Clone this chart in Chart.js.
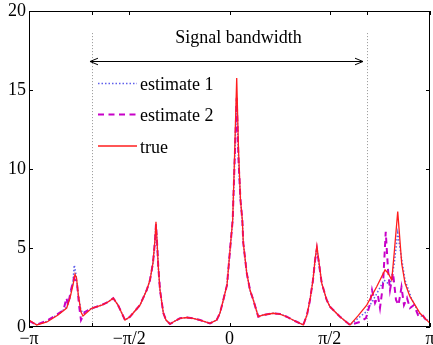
<!DOCTYPE html>
<html><head><meta charset="utf-8">
<script src="https://cdn.jsdelivr.net/npm/chart.js@4/dist/chart.umd.min.js"></script>
<style>html,body{margin:0;padding:0;background:#fff}canvas{display:block}</style>
</head><body><canvas id="c" width="433" height="345"></canvas>
<script>
const PI = Math.PI;
// axis ticks
const xTickValues = [-PI, -2.155, -PI/2, 0, PI/2, 2.155, PI];
const xTickLabels = ['−π', '', '−π/2', '0', 'π/2', '', 'π'];
const yTickValues = [0, 5, 10, 15, 20];
// annotation
const bandEdges = [-2.155, 2.155];
const bandTop = 18.6;
const arrowEnds = [-2.186, 2.092];
const arrowLevel = 16.84;
const bandLabel = 'Signal bandwidth';
const bandLabelX = 0.14;
const seriesNames = ['estimate 1', 'estimate 2', 'true'];

// true spectrum
const trueX = [-3.1416,-3.021,-2.860,-2.687,-2.551,-2.499,-2.452,-2.421,-2.397,-2.369,-2.327,-2.296,-2.159,-2.002,-1.904,-1.821,-1.747,-1.637,-1.559,-1.402,-1.297,-1.246,-1.199,-1.168,-1.152,-1.136,-1.116,-1.089,-1.037,-0.995,-0.932,-0.854,-0.776,-0.666,-0.572,-0.462,-0.306,-0.201,-0.149,-0.097,-0.039,0.008,0.050,0.078,0.113,0.141,0.172,0.201,0.216,0.270,0.321,0.373,0.451,0.530,0.686,0.791,0.896,1.026,1.156,1.214,1.261,1.308,1.340,1.369,1.402,1.445,1.523,1.575,1.731,1.888,2.013,2.150,2.306,2.437,2.484,2.542,2.578,2.636,2.664,2.698,2.750,2.828,2.985,3.1416];
const trueY = [0.44,0.13,0.32,0.76,1.20,1.84,2.66,3.34,3.10,2.03,0.95,0.70,1.18,1.39,1.58,1.82,1.39,0.44,0.65,1.39,2.34,2.97,4.05,5.5,6.66,5.5,3.82,2.34,0.89,0.44,0.19,0.38,0.55,0.60,0.55,0.44,0.23,0.44,0.89,1.71,2.66,4.87,6.77,10.6,15.76,11.2,8.04,6.77,5.32,3.42,2.34,1.71,0.65,0.76,0.87,0.82,0.65,0.38,0.13,0.76,1.71,2.97,4.24,5.13,4.11,2.78,1.71,1.28,0.65,0.13,0.70,1.39,2.55,3.61,3.42,2.97,4.56,7.30,5.82,4.03,2.78,1.92,0.87,0.23];

// estimates: common middle part
const midX = [-2.159,-2.002,-1.904,-1.821,-1.747,-1.637,-1.559,-1.402,-1.297,-1.246,-1.199,-1.168,-1.152,-1.136,-1.116,-1.089,-1.037,-0.995,-0.932,-0.854,-0.776,-0.666,-0.572,-0.462,-0.306,-0.201,-0.149,-0.097,-0.039,0.008,0.050,0.078,0.113,0.141,0.172,0.201,0.216,0.270,0.321,0.373,0.451,0.530,0.686,0.791,0.896,1.026,1.156,1.214,1.261,1.308,1.340,1.369,1.402,1.445,1.523,1.575,1.731,1.888];
const midEstY = [1.18,1.39,1.58,1.82,1.39,0.44,0.65,1.39,2.34,2.97,4.05,5.4,6.5,5.4,3.82,2.34,0.89,0.44,0.19,0.38,0.55,0.60,0.55,0.44,0.23,0.44,0.89,1.71,2.66,4.87,6.77,10.2,14.5,10.6,8.04,6.77,5.32,3.42,2.34,1.71,0.65,0.76,0.87,0.82,0.65,0.38,0.13,0.76,1.71,2.97,4.2,4.95,4.0,2.78,1.71,1.28,0.65,0.13];

const est1LeftX = [-3.1416,-3.021,-2.860,-2.687,-2.551,-2.499,-2.452,-2.432,-2.405,-2.375,-2.330,-2.300];
const est1LeftY = [0.40,0.15,0.35,0.80,1.25,1.90,2.90,3.92,3.30,2.20,1.10,0.90];
const est1RightX = [2.013,2.139,2.296,2.421,2.515,2.578,2.636,2.687,2.750,2.860,2.985,3.1416];
const est1RightY = [0.55,0.95,2.03,2.97,2.66,3.92,5.95,4.56,2.97,1.71,0.76,0.32];

const est2LeftX = [-3.1416,-3.021,-2.860,-2.700,-2.600,-2.555,-2.530,-2.484,-2.437,-2.390,-2.358,-2.327,-2.264];
const est2LeftY = [0.38,0.15,0.40,0.80,1.08,1.84,1.39,2.34,3.10,2.78,1.39,0.44,0.95];
const est2RightX = [2.043,2.139,2.197,2.233,2.280,2.327,2.358,2.405,2.448,2.484,2.515,2.562,2.609,2.648,2.695,2.734,2.781,2.828,2.891,2.954,3.016,3.079,3.1416];
const est2RightY = [0.32,0.57,1.39,2.34,1.52,1.96,1.20,2.66,6.03,3.61,2.34,3.42,1.71,1.39,2.53,1.39,1.84,1.20,1.39,0.76,0.82,0.44,0.32];

const est1X = [...est1LeftX, ...midX, ...est1RightX];
const est1Y = [...est1LeftY, ...midEstY, ...est1RightY];
const est2X = [...est2LeftX, ...midX, ...est2RightX];
const est2Y = [...est2LeftY, ...midEstY, ...est2RightY];

const pts = (xs, ys) => xs.map((x, i) => ({x, y: ys[i]}));

const FONT = '"Liberation Serif", "Times New Roman", serif';
const C1 = 'rgb(95,95,235)', C2 = 'rgb(200,0,200)', C3 = 'rgb(255,30,30)';
const styles = [
  {color: C1, width: 1.5, dash: [1.5, 2]},
  {color: C2, width: 2, dash: [6, 4.5]},
  {color: C3, width: 1.3, dash: []}
];

const deco = {
  id: 'deco',
  beforeDatasetsDraw(chart) {
    const {ctx, chartArea: a, scales: {x, y}} = chart;
    ctx.save();
    ctx.strokeStyle = 'rgb(150,150,150)';
    ctx.lineWidth = 1;
    ctx.setLineDash([1, 2]);
    bandEdges.forEach(v => {
      const px = Math.round(x.getPixelForValue(v)) + 0.5;
      ctx.beginPath();
      ctx.moveTo(px, y.getPixelForValue(bandTop));
      ctx.lineTo(px, a.bottom);
      ctx.stroke();
    });
    ctx.restore();
  },
  afterDatasetsDraw(chart) {
    const {ctx, chartArea: a, scales: {x, y}} = chart;
    ctx.save();
    // box
    ctx.strokeStyle = '#000';
    ctx.lineWidth = 1;
    ctx.setLineDash([]);
    ctx.strokeRect(a.left + 0.5, a.top + 0.5, a.right - a.left - 1, a.bottom - a.top - 1);
    // inward ticks
    ctx.beginPath();
    xTickValues.forEach(v => {
      const px = Math.round(x.getPixelForValue(v)) + 0.5;
      ctx.moveTo(px, a.bottom); ctx.lineTo(px, a.bottom - 4);
      ctx.moveTo(px, a.top); ctx.lineTo(px, a.top + 4);
    });
    yTickValues.forEach(v => {
      const py = Math.round(y.getPixelForValue(v)) + 0.5;
      ctx.moveTo(a.left, py); ctx.lineTo(a.left + 4, py);
      ctx.moveTo(a.right, py); ctx.lineTo(a.right - 4, py);
    });
    ctx.stroke();
    // arrow
    const ay = Math.round(y.getPixelForValue(arrowLevel)) + 0.5;
    const x0 = x.getPixelForValue(arrowEnds[0]), x1 = x.getPixelForValue(arrowEnds[1]);
    ctx.beginPath();
    ctx.moveTo(x0, ay); ctx.lineTo(x1, ay);
    ctx.moveTo(x0 + 8, ay - 3.3); ctx.lineTo(x0, ay); ctx.lineTo(x0 + 8, ay + 3.3);
    ctx.moveTo(x1 - 8, ay - 3.3); ctx.lineTo(x1, ay); ctx.lineTo(x1 - 8, ay + 3.3);
    ctx.stroke();
    // label
    ctx.fillStyle = '#000';
    ctx.font = '18px ' + FONT;
    ctx.textAlign = 'center';
    ctx.textBaseline = 'alphabetic';
    ctx.fillText(bandLabel, x.getPixelForValue(bandLabelX), 43);
    // legend
    const rows = [83.5, 114.5, 146];
    ctx.textAlign = 'left';
    seriesNames.forEach((name, i) => {
      const s = styles[i];
      ctx.strokeStyle = s.color;
      ctx.lineWidth = s.width;
      ctx.setLineDash(s.dash);
      ctx.beginPath();
      ctx.moveTo(98, rows[i]); ctx.lineTo(137, rows[i]);
      ctx.stroke();
      ctx.fillText(name, 140, rows[i] + 6.5);
    });
    ctx.restore();
  }
};

new Chart(document.getElementById('c'), {
  type: 'line',
  data: {
    datasets: [
      {label: seriesNames[0], data: pts(est1X, est1Y), order: 3},
      {label: seriesNames[1], data: pts(est2X, est2Y), order: 2},
      {label: seriesNames[2], data: pts(trueX, trueY), order: 1}
    ].map((d, i) => Object.assign(d, {
      borderColor: styles[i].color, borderWidth: styles[i].width, borderDash: styles[i].dash,
      pointRadius: 0, tension: 0, fill: false
    }))
  },
  options: {
    responsive: false,
    animation: false,
    events: [],
    layout: {padding: {top: 11, right: 3, left: 0, bottom: 0}},
    plugins: {legend: {display: false}, tooltip: {enabled: false}},
    scales: {
      x: {
        type: 'linear', min: -PI, max: PI,
        afterBuildTicks: s => { s.ticks = xTickValues.map(v => ({value: v})); },
        afterFit: s => { s.height = 18; s.paddingLeft = 0; s.paddingRight = 0; },
        ticks: {
          autoSkip: false, maxRotation: 0, padding: 1, color: '#000',
          font: {family: FONT, size: 18},
          callback: (v, i) => xTickLabels[i]
        },
        grid: {display: false, drawTicks: false},
        border: {display: false}
      },
      y: {
        min: 0, max: 20,
        afterBuildTicks: s => { s.ticks = yTickValues.map(v => ({value: v})); },
        afterFit: s => { s.width = 29; s.paddingTop = 0; s.paddingBottom = 0; },
        ticks: {padding: 3, color: '#000', font: {family: FONT, size: 18}},
        grid: {display: false, drawTicks: false},
        border: {display: false}
      }
    }
  },
  plugins: [deco]
});
</script>
</body></html>
